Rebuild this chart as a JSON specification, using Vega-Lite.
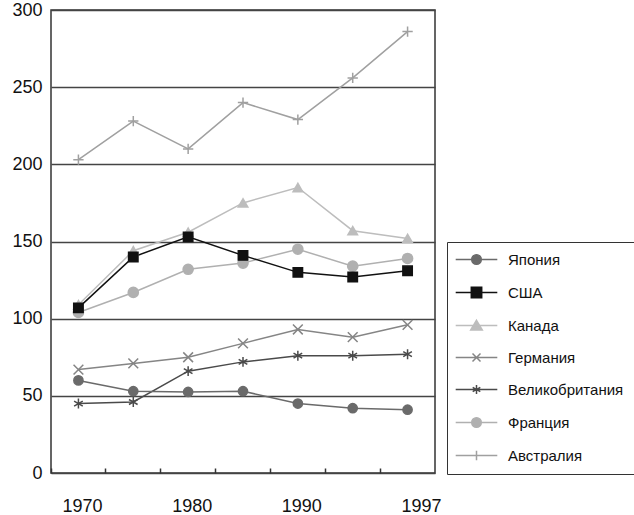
{
  "$schema": "https://vega.github.io/schema/vega-lite/v6.json",
  "autosize": {"type": "none"},
  "padding": {"left": 51, "top": 10, "right": 199, "bottom": 42},
  "width": 384,
  "height": 463,
  "background": "white",
  "config": {
    "view": {"stroke": "#333", "strokeWidth": 1.5},
    "font": "Liberation Sans"
  },
  "data": {"values": [
    {"country": "Австралия", "year": 1970, "v": 203},
    {"country": "Австралия", "year": 1975, "v": 228},
    {"country": "Австралия", "year": 1980, "v": 210},
    {"country": "Австралия", "year": 1985, "v": 240},
    {"country": "Австралия", "year": 1990, "v": 229},
    {"country": "Австралия", "year": 1995, "v": 256},
    {"country": "Австралия", "year": 1997, "v": 286},
    {"country": "Франция", "year": 1970, "v": 104},
    {"country": "Франция", "year": 1975, "v": 117},
    {"country": "Франция", "year": 1980, "v": 132},
    {"country": "Франция", "year": 1985, "v": 136},
    {"country": "Франция", "year": 1990, "v": 145},
    {"country": "Франция", "year": 1995, "v": 134},
    {"country": "Франция", "year": 1997, "v": 139},
    {"country": "Канада", "year": 1970, "v": 109},
    {"country": "Канада", "year": 1975, "v": 144},
    {"country": "Канада", "year": 1980, "v": 156},
    {"country": "Канада", "year": 1985, "v": 175},
    {"country": "Канада", "year": 1990, "v": 185},
    {"country": "Канада", "year": 1995, "v": 157},
    {"country": "Канада", "year": 1997, "v": 152},
    {"country": "Германия", "year": 1970, "v": 67},
    {"country": "Германия", "year": 1975, "v": 71},
    {"country": "Германия", "year": 1980, "v": 75},
    {"country": "Германия", "year": 1985, "v": 84},
    {"country": "Германия", "year": 1990, "v": 93},
    {"country": "Германия", "year": 1995, "v": 88},
    {"country": "Германия", "year": 1997, "v": 96},
    {"country": "Великобритания", "year": 1970, "v": 45},
    {"country": "Великобритания", "year": 1975, "v": 46},
    {"country": "Великобритания", "year": 1980, "v": 66},
    {"country": "Великобритания", "year": 1985, "v": 72},
    {"country": "Великобритания", "year": 1990, "v": 76},
    {"country": "Великобритания", "year": 1995, "v": 76},
    {"country": "Великобритания", "year": 1997, "v": 77},
    {"country": "Япония", "year": 1970, "v": 60},
    {"country": "Япония", "year": 1975, "v": 53},
    {"country": "Япония", "year": 1980, "v": 52.5},
    {"country": "Япония", "year": 1985, "v": 53},
    {"country": "Япония", "year": 1990, "v": 45},
    {"country": "Япония", "year": 1995, "v": 42},
    {"country": "Япония", "year": 1997, "v": 41},
    {"country": "США", "year": 1970, "v": 107},
    {"country": "США", "year": 1975, "v": 140},
    {"country": "США", "year": 1980, "v": 153},
    {"country": "США", "year": 1985, "v": 141},
    {"country": "США", "year": 1990, "v": 130},
    {"country": "США", "year": 1995, "v": 127},
    {"country": "США", "year": 1997, "v": 131}
  ]},
  "encoding": {
    "x": {
      "field": "year", "type": "ordinal",
      "scale": {"type": "band", "paddingInner": 0, "paddingOuter": 0},
      "axis": {
        "title": null, "domain": false, "ticks": true, "tickSize": -5, "tickColor": "#333", "tickWidth": 1.5,
        "bandPosition": 0, "labelAngle": 0, "labelFontSize": 18, "labelColor": "#111", "labelPadding": 29,
        "labelExpr": "indexof(['1970','1980','1990','1997'], datum.label) >= 0 ? datum.label : ''",
        "labelOffset": {"condition": {"test": "datum.value == 1997", "value": 14}, "value": 4}
      }
    },
    "y": {
      "field": "v", "type": "quantitative",
      "scale": {"domain": [0, 300], "nice": false},
      "axis": {
        "title": null, "ticks": false, "domain": false, "grid": true, "gridColor": "#444", "gridWidth": 1.3,
        "values": [0, 50, 100, 150, 200, 250, 300], "labelFontSize": 18, "labelColor": "#111", "labelPadding": 9
      }
    },
    "color": {
      "field": "country", "type": "nominal",
      "scale": {
        "domain": ["Япония", "США", "Канада", "Германия", "Великобритания", "Франция", "Австралия"],
        "range": ["#6a6a6a", "#111111", "#bdbdbd", "#858585", "#4a4a4a", "#b0b0b0", "#a0a0a0"]
      },
      "legend": {
        "orient": "none", "legendX": 396, "legendY": 232, "title": null,
        "strokeColor": "#333", "fillColor": "white", "padding": 10,
        "labelFontSize": 15, "labelColor": "#111", "symbolSize": 64, "symbolOffset": 12, "labelOffset": 24,
        "rowPadding": 16, "symbolStrokeWidth": 1.5,
        "encoding": {"symbols": {
          "shape": {"value": {"expr": "datum.value === 'Япония' || datum.value === 'Франция' ? 'M-5.2,0L5.2,0M1.2,0A1.2,1.2,0,1,1,-1.2,0A1.2,1.2,0,1,1,1.2,0Z' : datum.value === 'США' ? 'M-5.2,0L5.2,0M-1.3,-1.3L1.3,-1.3L1.3,1.3L-1.3,1.3Z' : datum.value === 'Канада' ? 'M-5.2,0L5.2,0M0,-1.3L1.45,1.1L-1.45,1.1Z' : datum.value === 'Германия' ? 'M-5.2,0L5.2,0M-1,-1L1,1M-1,1L1,-1' : datum.value === 'Великобритания' ? 'M-5.2,0L5.2,0M0,-1.1L0,1.1M-0.95,-0.55L0.95,0.55M-0.95,0.55L0.95,-0.55' : 'M-5.2,0L5.2,0M0,-1.2L0,1.2'"}},
          "stroke": {"value": {"expr": "scale('color', datum.value)"}},
          "fill": {"value": {"expr": "scale('color', datum.value)"}},
          "strokeWidth": {"value": 1.5},
          "opacity": {"value": 1}
        }}
      }
    }
  },
  "layer": [
    {
      "mark": {"type": "line", "strokeWidth": 1.5},
      "encoding": {"detail": {"field": "country"}}
    },
    {
      "mark": {"type": "point", "filled": true, "opacity": 1, "strokeWidth": 1.5},
      "encoding": {
        "shape": {
          "field": "country", "type": "nominal", "legend": null,
          "scale": {
            "domain": ["Япония", "США", "Канада", "Германия", "Великобритания", "Франция", "Австралия", "-s"],
            "range": ["circle", "square", "triangle-up", "M-1,-1L1,1M-1,1L1,-1", "M0,-1L0,1M-0.87,-0.5L0.87,0.5M-0.87,0.5L0.87,-0.5", "circle", "M-1,0L1,0M0,-1L0,1", "circle"]
          }
        },
        "stroke": {
          "field": "country", "type": "nominal", "legend": null,
          "scale": {
            "domain": ["Япония", "США", "Канада", "Германия", "Великобритания", "Франция", "Австралия", "-k"],
            "range": ["#6a6a6a", "#111111", "#bdbdbd", "#858585", "#4a4a4a", "#b0b0b0", "#a0a0a0", "#000000"]
          }
        },
        "size": {
          "field": "country", "type": "nominal", "legend": null,
          "scale": {
            "domain": ["Япония", "США", "Канада", "Германия", "Великобритания", "Франция", "Австралия", "-z"],
            "range": [85, 110, 120, 90, 90, 85, 100, 100]
          }
        }
      }
    }
  ]
}
